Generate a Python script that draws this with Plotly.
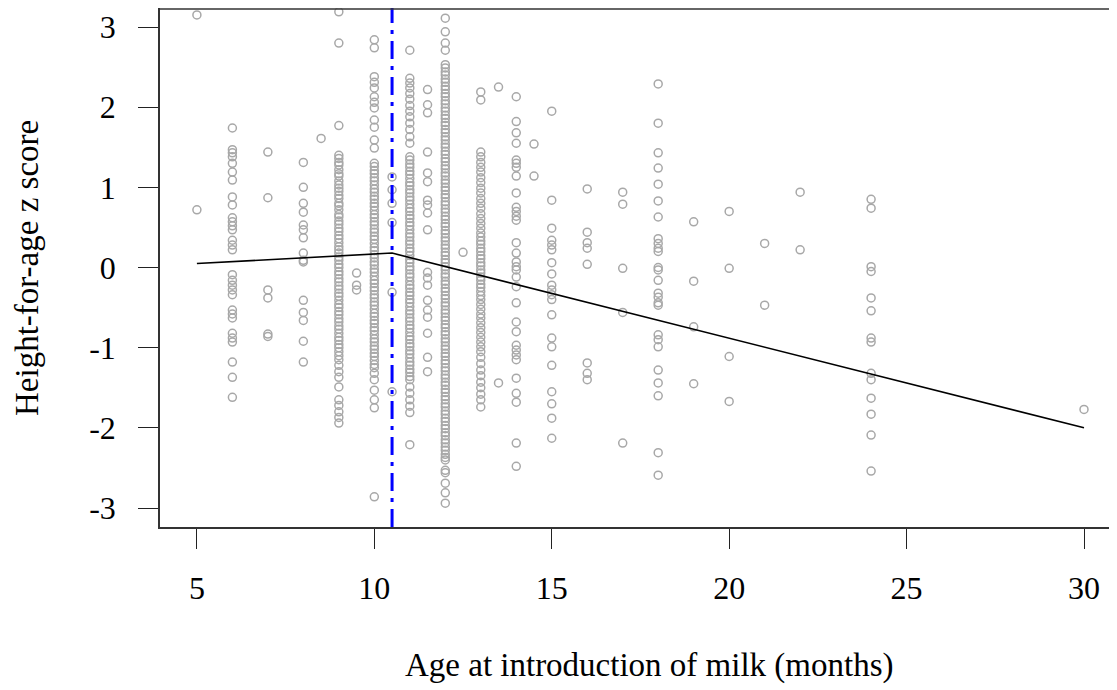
import plotly.graph_objects as go

# ---- data ----
ages = [5, 6, 7, 8, 8.5, 9, 9.5, 10, 10.5, 11, 11.5, 12, 12.5, 13, 13.5, 14, 14.5,
        15, 16, 17, 18, 19, 20, 21, 22, 24, 30]

y_5 = [3.15, 0.72]
y_6 = [1.74, 1.47, 1.43, 1.38, 1.30, 1.19, 1.09, 0.88, 0.78, 0.62, 0.57, 0.52, 0.47, 0.34,
       0.28, 0.22, -0.09, -0.16, -0.22, -0.28, -0.34, -0.53, -0.58, -0.63, -0.82, -0.88,
       -0.93, -1.18, -1.37, -1.62]
y_7 = [1.44, 0.87, -0.28, -0.38, -0.83, -0.86]
y_8 = [1.31, 1.00, 0.80, 0.69, 0.53, 0.47, 0.37, 0.18, 0.09, 0.07, -0.41, -0.56, -0.66,
       -0.92, -1.18]
y_8_5 = [1.61]
y_9 = [3.19, 2.80, 1.77, 1.40, 1.36, 1.31, 1.28, 1.22, 1.17, 1.14, 1.08, 1.03, 0.99, 0.95,
       0.90, 0.86, 0.80, 0.77, 0.72, 0.66, 0.63, 0.58, 0.54, 0.49, 0.45, 0.40, 0.36, 0.31,
       0.26, 0.22, 0.18, 0.13, 0.09, 0.04, 0.00, -0.05, -0.09, -0.14, -0.18, -0.23, -0.27,
       -0.32, -0.36, -0.41, -0.46, -0.50, -0.55, -0.59, -0.64, -0.68, -0.73, -0.77, -0.82,
       -0.87, -0.91, -0.96, -1.00, -1.05, -1.10, -1.15, -1.22, -1.30, -1.37, -1.49, -1.65,
       -1.72, -1.80, -1.87, -1.94]
y_9_5 = [-0.07, -0.22, -0.28]
y_10 = [2.84, 2.74, 2.38, 2.31, 2.24, 2.13, 2.06, 1.99, 1.84, 1.75, 1.59, 1.49, 1.30, 1.26,
        1.21, 1.17, 1.12, 1.08, 1.03, 0.98, 0.94, 0.89, 0.85, 0.80, 0.76, 0.71, 0.66, 0.62,
        0.57, 0.53, 0.48, 0.44, 0.39, 0.35, 0.30, 0.25, 0.21, 0.16, 0.12, 0.07, 0.03, -0.02,
        -0.06, -0.11, -0.16, -0.20, -0.25, -0.29, -0.34, -0.38, -0.43, -0.47, -0.52, -0.57,
        -0.61, -0.66, -0.70, -0.75, -0.79, -0.84, -0.89, -0.93, -0.98, -1.02, -1.07, -1.11,
        -1.16, -1.21, -1.25, -1.32, -1.40, -1.53, -1.65, -1.75, -2.86]
y_10_5 = [1.13, 0.97, 0.80, 0.56, -0.31, -1.55]
y_11 = [2.71, 2.36, 2.30, 2.24, 2.17, 2.10, 2.02, 1.95, 1.88, 1.80, 1.72, 1.63, 1.55, 1.38,
        1.34, 1.29, 1.25, 1.20, 1.16, 1.11, 1.06, 1.02, 0.97, 0.93, 0.88, 0.84, 0.79, 0.74,
        0.70, 0.65, 0.61, 0.56, 0.52, 0.47, 0.42, 0.38, 0.33, 0.29, 0.24, 0.20, 0.15, 0.10,
        0.06, 0.01, -0.03, -0.08, -0.12, -0.17, -0.22, -0.26, -0.31, -0.35, -0.40, -0.44,
        -0.49, -0.54, -0.58, -0.63, -0.67, -0.72, -0.76, -0.81, -0.86, -0.90, -0.95, -0.99,
        -1.04, -1.08, -1.13, -1.18, -1.22, -1.27, -1.31, -1.36, -1.40, -1.49, -1.57, -1.65,
        -1.73, -1.81, -2.21]
y_11_5 = [2.22, 2.03, 1.93, 1.44, 1.18, 1.07, 0.84, 0.78, 0.68, 0.47, -0.06, -0.13, -0.22,
          -0.41, -0.53, -0.62, -0.82, -1.12, -1.30]
y_12 = [3.11, 2.94, 2.80, 2.71, 2.53, 2.49, 2.44, 2.40, 2.35, 2.31, 2.26, 2.22, 2.17, 2.13,
        2.08, 2.04, 1.99, 1.95, 1.90, 1.86, 1.81, 1.77, 1.72, 1.68, 1.63, 1.59, 1.54, 1.50,
        1.45, 1.41, 1.36, 1.32, 1.27, 1.23, 1.18, 1.14, 1.09, 1.05, 1.00, 0.96, 0.91, 0.87,
        0.82, 0.78, 0.73, 0.69, 0.64, 0.60, 0.55, 0.51, 0.46, 0.42, 0.37, 0.33, 0.28, 0.24,
        0.19, 0.15, 0.10, 0.06, 0.01, -0.03, -0.08, -0.12, -0.17, -0.21, -0.26, -0.30, -0.35,
        -0.39, -0.44, -0.48, -0.53, -0.57, -0.62, -0.66, -0.71, -0.75, -0.80, -0.84, -0.89,
        -0.93, -0.98, -1.02, -1.07, -1.11, -1.16, -1.20, -1.25, -1.29, -1.34, -1.38, -1.43,
        -1.47, -1.52, -1.56, -1.61, -1.65, -1.70, -1.74, -1.79, -1.83, -1.88, -1.92, -1.97,
        -2.01, -2.06, -2.10, -2.15, -2.19, -2.24, -2.28, -2.33, -2.37, -2.40, -2.53, -2.56,
        -2.69, -2.81, -2.94]
y_12_5 = [0.19]
y_13 = [2.19, 2.09, 1.44, 1.38, 1.31, 1.25, 1.19, 1.12, 1.06, 0.99, 0.93, 0.86, 0.80, 0.74,
        0.67, 0.61, 0.55, 0.49, 0.43, 0.38, 0.33, 0.29, 0.24, 0.20, 0.15, 0.11, 0.06, 0.02,
        -0.03, -0.07, -0.12, -0.16, -0.21, -0.25, -0.30, -0.35, -0.40, -0.46, -0.52, -0.58,
        -0.63, -0.69, -0.75, -0.81, -0.87, -0.93, -0.99, -1.05, -1.12, -1.20, -1.28, -1.35,
        -1.43, -1.50, -1.58, -1.65, -1.74]
y_13_5 = [2.25, -1.44]
y_14 = [2.13, 1.82, 1.68, 1.55, 1.34, 1.30, 1.25, 1.14, 0.93, 0.75, 0.70, 0.64, 0.59, 0.31,
        0.18, 0.07, 0.01, -0.03, -0.12, -0.24, -0.44, -0.68, -0.80, -0.97, -1.03, -1.09,
        -1.15, -1.38, -1.57, -1.68, -2.19, -2.48]
y_14_5 = [1.54, 1.14]
y_15 = [1.95, 0.84, 0.49, 0.34, 0.28, 0.22, 0.06, -0.08, -0.22, -0.28, -0.34, -0.40, -0.59,
        -0.88, -0.99, -1.22, -1.55, -1.70, -1.88, -2.13]
y_16 = [0.98, 0.44, 0.31, 0.24, 0.04, -1.19, -1.32, -1.40]
y_17 = [0.94, 0.79, -0.01, -0.56, -2.19]
y_18 = [2.29, 1.80, 1.43, 1.24, 1.04, 0.83, 0.63, 0.36, 0.30, 0.24, 0.20, 0.00, -0.03,
        -0.16, -0.32, -0.37, -0.44, -0.47, -0.84, -0.90, -0.99, -1.28, -1.44, -1.60, -2.31,
        -2.59]
y_19 = [0.57, -0.17, -0.74, -1.45]
y_20 = [0.70, -0.01, -1.11, -1.67]
y_21 = [0.30, -0.47]
y_22 = [0.94, 0.22]
y_24 = [0.85, 0.74, 0.01, -0.05, -0.38, -0.54, -0.88, -0.93, -1.32, -1.40, -1.63, -1.83,
        -2.09, -2.54]
y_30 = [-1.77]

columns = [y_5, y_6, y_7, y_8, y_8_5, y_9, y_9_5, y_10, y_10_5, y_11, y_11_5, y_12, y_12_5,
           y_13, y_13_5, y_14, y_14_5, y_15, y_16, y_17, y_18, y_19, y_20, y_21, y_22, y_24,
           y_30]

# fitted piecewise-linear curve
fit_x = [5, 10.5, 30]
fit_y = [0.05, 0.18, -2.0]

# breakpoint
break_x = 10.5

x_ticks = [5, 10, 15, 20, 25, 30]
x_tick_text = ["5", "10", "15", "20", "25", "30"]
y_ticks = [-3, -2, -1, 0, 1, 2, 3]
y_tick_text = ["-3", "-2", "-1", "0", "1", "2", "3"]

# ---- build ----
px_ = []
py_ = []
for a, col in zip(ages, columns):
    for v in col:
        px_.append(a)
        py_.append(v)

FONT = "Liberation Serif"
TICK_SIZE = 32
TITLE_SIZE = 33

fig = go.Figure()
fig.add_trace(go.Scatter(
    x=px_, y=py_, mode="markers",
    marker=dict(symbol="circle-open", size=8, color="#A8A8A8", line=dict(width=1.5, color="#A8A8A8")),
    showlegend=False, hoverinfo="skip"))
fig.add_trace(go.Scatter(
    x=fit_x, y=fit_y, mode="lines", line=dict(color="black", width=1.6),
    showlegend=False))

fig.add_shape(type="line", xref="x", yref="paper", x0=break_x, x1=break_x, y0=0, y1=1,
              line=dict(color="#0000FF", width=3, dash="18px,7px,4px,7px"))
# top border of the box
fig.add_shape(type="line", xref="paper", yref="paper", x0=0, x1=1, y0=0.998, y1=0.998,
              line=dict(color="#333333", width=1.6))

# page body has an 8px margin, so the figure is 8px smaller and offset
fig.update_layout(
    width=1109, height=682,
    margin=dict(l=152, r=0, t=0, b=163),
    plot_bgcolor="white", paper_bgcolor="white",
    font=dict(family=FONT, size=TICK_SIZE, color="black"),
    xaxis=dict(range=[3.96, 30.93], tickvals=x_ticks, ticktext=x_tick_text,
               ticks="outside", ticklen=20, tickwidth=1.3, tickcolor="#222222",
               showline=True, linecolor="#333333", linewidth=1.6,
               showgrid=False, zeroline=False, ticklabelstandoff=12,
               tickfont=dict(family=FONT, size=TICK_SIZE, color="black")),
    yaxis=dict(range=[-3.237, 3.237], tickvals=y_ticks, ticktext=y_tick_text,
               ticks="outside", ticklen=20, tickwidth=1.3, tickcolor="#222222",
               showline=True, linecolor="#333333", linewidth=1.6,
               showgrid=False, zeroline=False, ticklabelstandoff=16,
               tickfont=dict(family=FONT, size=TICK_SIZE, color="black")),
    annotations=[
        dict(text="Age at introduction of milk (months)", xref="paper", yref="paper",
             x=(649 - 160) / 957, y=(527 - 665) / 519, showarrow=False,
             xanchor="center", yanchor="middle",
             font=dict(family=FONT, size=TITLE_SIZE, color="black")),
        dict(text="Height-for-age z score", xref="paper", yref="paper",
             x=(27 - 160) / 957, y=(527 - 268) / 519, showarrow=False, textangle=-90,
             xanchor="center", yanchor="middle",
             font=dict(family=FONT, size=TITLE_SIZE, color="black")),
    ],
)

fig.write_html("out.html")
